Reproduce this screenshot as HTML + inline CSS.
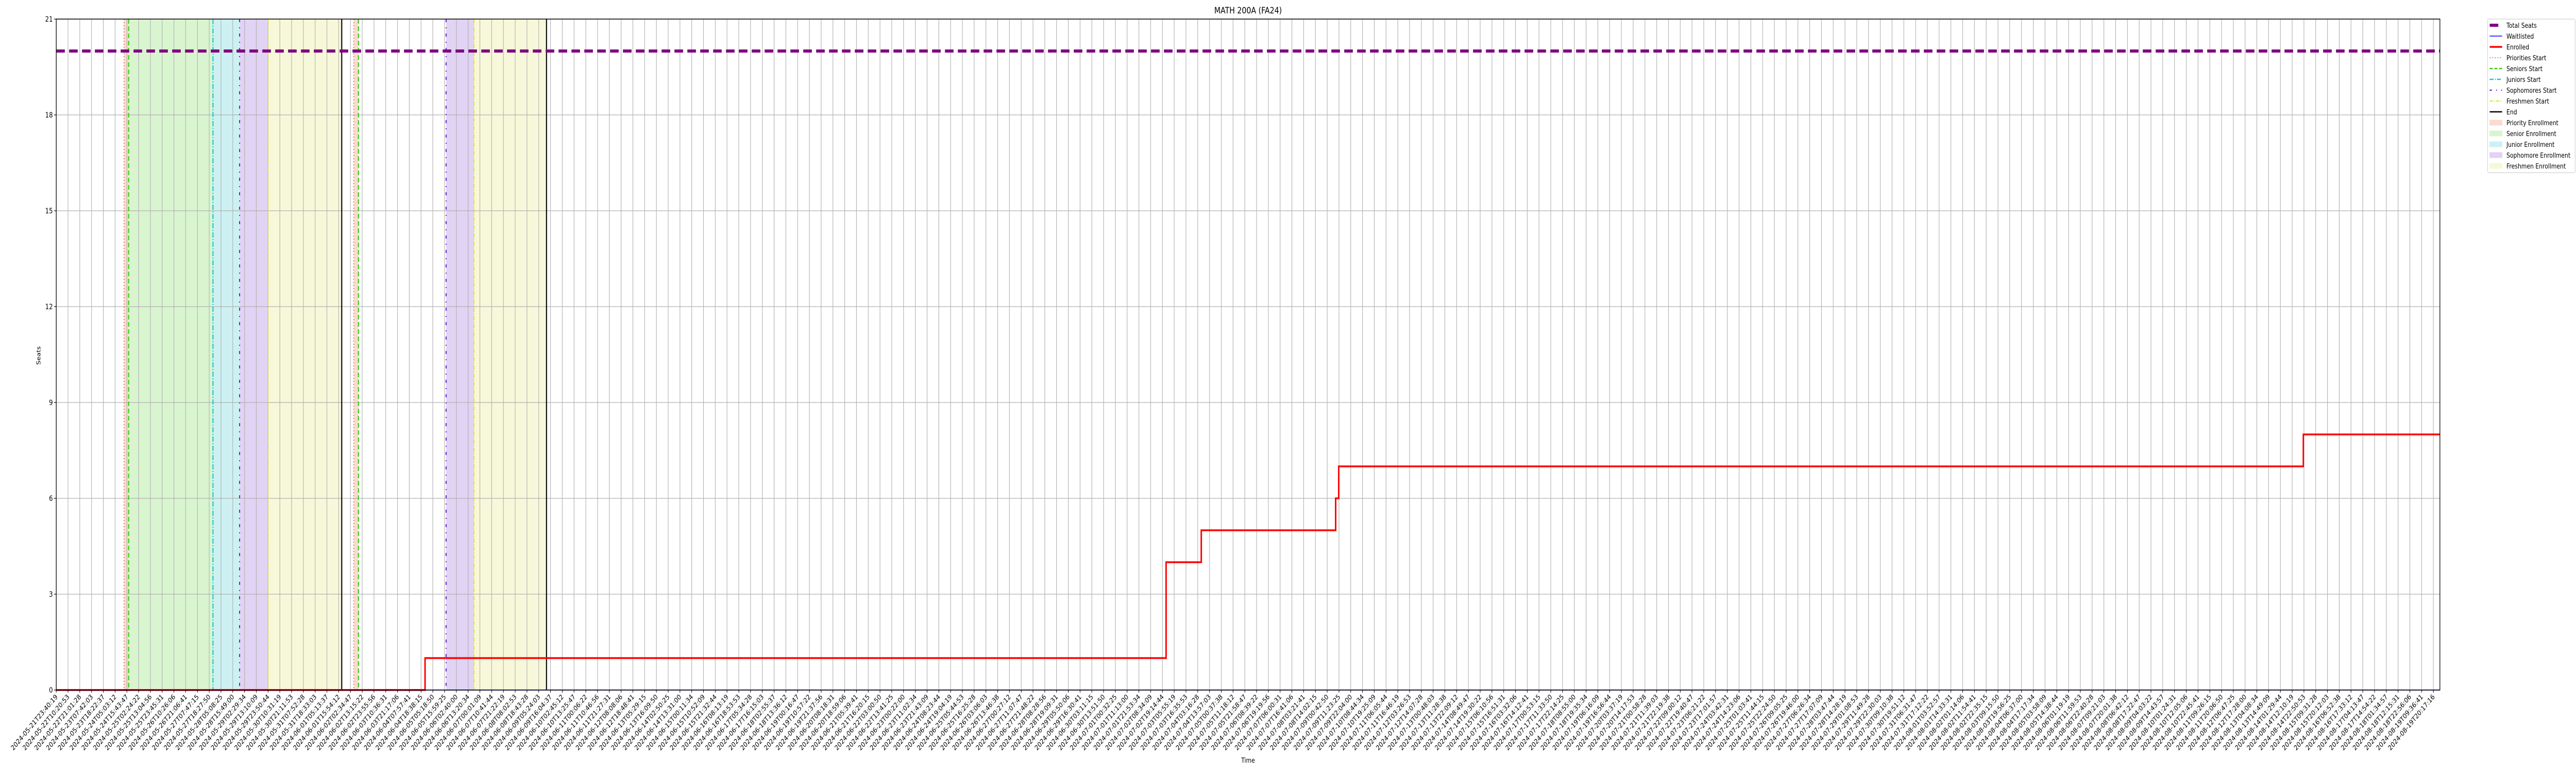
<!DOCTYPE html>
<html><head><meta charset="utf-8"><style>
html,body{margin:0;padding:0;background:#fff;width:100%;height:100%;overflow:hidden;}
svg{display:block;width:100vw;height:100vh;font-family:"DejaVu Sans","Liberation Sans",sans-serif;}
</style></head><body>
<svg id="chart" viewBox="0 0 6000 1500" preserveAspectRatio="none" xmlns="http://www.w3.org/2000/svg">
<text x="2907" y="26" font-size="17" text-anchor="middle">MATH 200A (FA24)</text>
<g id="plot"></g>
<text x="2907" y="1480" font-size="13" text-anchor="middle">Time</text>
<text x="0" y="0" font-size="13" text-anchor="middle" transform="translate(94,690) rotate(-90)">Seats</text>
<g id="legend"></g>
</svg>
<script>
const totalSeats = 20;
const enrolledIdx = [0, 31.34, 94.31, 97.30, 108.72, 108.98, 190.95, 202.55];
const enrolledVal = [0, 1, 4, 5, 6, 7, 8, 8];
const waitlistIdx = [0, 202.55];
const waitlistVal = [0, 0];
const periodStarts = [
  {priority:5.76, seniors:6.15, juniors:13.32, soph:15.58, fresh:17.99, end:24.26},
  {priority:25.28, seniors:25.68, juniors:null, soph:33.13, fresh:35.50, end:41.66}
];
const yTicks = [0,3,6,9,12,15,18,21];
const tickCount = 203;
const startLabelTime = Date.UTC(2024,4,21,23,40,19);
const endLabelTime = Date.UTC(2024,7,19,20,17,16);

const NS="http://www.w3.org/2000/svg";
const L=131,R=5683,T=37,B=1339,step=27.41;
const X=i=>L+i*step;
const Y=v=>B-(v/21)*(B-T);
const plot=document.getElementById('plot');
function mk(tag,attrs,parent){const e=document.createElementNS(NS,tag);for(const k in attrs)e.setAttribute(k,attrs[k]);(parent||plot).appendChild(e);return e;}

const spanColors={priority:'#f8dccf',seniors:'#d9f5d0',juniors:'#cdf1f2',soph:'#e1d3f4',fresh:'#f7f8d9'};
periodStarts.forEach((p,pi)=>{
  const order=['priority','seniors','juniors','soph','fresh','end'];
  const pts=order.filter(k=>p[k]!==null);
  for(let j=0;j<pts.length-1;j++){
    const k=pts[j];
    if(pi===1 && k==='seniors') continue;
    const r=mk('rect',{x:X(p[k]),y:T,width:X(p[pts[j+1]])-X(p[k]),height:B-T,fill:spanColors[k]});
    
    
  }
});
for(let i=0;i<tickCount;i++){
  const g=mk('line',{x1:X(i),x2:X(i),y1:T,y2:B,stroke:'#b0b0b0','stroke-width':1.3});
  
  
}
yTicks.forEach(v=>{
  const g=mk('line',{x1:L,x2:R,y1:Y(v),y2:Y(v),stroke:'#b0b0b0','stroke-width':1.3});
  
  
});
const lineStyles={
  priority:{stroke:'#e8743b',dash:'2,4',w:2},
  seniors:{stroke:'#33cc11',dash:'9,5',w:2.5},
  juniors:{stroke:'#11c8d8',dash:'10,3,2,3',w:2.5},
  soph:{stroke:'#6a2bd9',dash:'6,10,2,10',w:2.5},
  fresh:{stroke:'#dddd33',dash:'8,3,2,3',w:2},
  end:{stroke:'#000',dash:'',w:2.5}
};
periodStarts.forEach(p=>{
  for(const k in lineStyles){ if(p[k]===null) continue;
    const s=lineStyles[k];
    const ln=mk('line',{x1:X(p[k]),x2:X(p[k]),y1:T,y2:B,stroke:s.stroke,'stroke-width':s.w,'stroke-dasharray':s.dash});
    
    
  }
});
const ts=mk('line',{x1:L,x2:R,y1:Y(totalSeats),y2:Y(totalSeats),stroke:'#800080','stroke-width':6,'stroke-dasharray':'20,10'});


function stepPath(xs,vs){let d='M'+X(xs[0])+','+Y(vs[0]);for(let i=1;i<xs.length;i++){d+=' H'+X(xs[i])+' V'+Y(vs[i]);}return d;}
const en=mk('path',{d:stepPath(enrolledIdx,enrolledVal),fill:'none',stroke:'#ff0000','stroke-width':3.5});


const wl=mk('path',{d:stepPath(waitlistIdx,waitlistVal),fill:'none',stroke:'#0000ff','stroke-width':1.5});


const fr=mk('rect',{x:L,y:T,width:R-L,height:B-T,fill:'none',stroke:'#000','stroke-width':1.5});


yTicks.forEach(v=>{
  const t=mk('line',{x1:L-5,x2:L,y1:Y(v),y2:Y(v),stroke:'#000','stroke-width':1.2});
  
  
  const tx=mk('text',{x:L-8,y:Y(v)+5,'font-size':14,'text-anchor':'end'});
  tx.textContent=v;
  
  
});
const pad=n=>String(n).padStart(2,'0');
for(let i=0;i<tickCount;i++){
  const tm=new Date(startLabelTime+(endLabelTime-startLabelTime)*i/(tickCount-1));
  const lab=tm.getUTCFullYear()+'-'+pad(tm.getUTCMonth()+1)+'-'+pad(tm.getUTCDate())+'T'+pad(tm.getUTCHours())+':'+pad(tm.getUTCMinutes())+':'+pad(tm.getUTCSeconds());
  const t=mk('line',{x1:X(i),x2:X(i),y1:B,y2:B+5,stroke:'#000','stroke-width':1.2});
  
  
  const tx=mk('text',{x:0,y:0,'font-size':13.5,'text-anchor':'end',transform:'translate('+(X(i)+4)+','+(B+14)+') rotate(-45)'});
  tx.textContent=lab;
  
  
}
const lg=document.getElementById('legend');
const lb=mk('rect',{x:5794,y:37,width:204,height:298,rx:3,fill:'#fff',stroke:'#d0d0d0','stroke-width':1.2},lg);


const items=[
 ['Total Seats','line','#800080','',6,'20'],
 ['Waitlisted','line','#0000ff','',1.5,''],
 ['Enrolled','line','#ff0000','',3.5,''],
 ['Priorities Start','line','#e8743b','2,4',2,''],
 ['Seniors Start','line','#33cc11','7,4',2.5,''],
 ['Juniors Start','line','#11c8d8','9,3,2,3',2.5,''],
 ['Sophomores Start','line','#6a2bd9','5,10,2,10',2.5,''],
 ['Freshmen Start','line','#dddd33','7,3,2,3',2,''],
 ['End','line','#000','',2.5,''],
 ['Priority Enrollment','rect','#f8dccf'],
 ['Senior Enrollment','rect','#d9f5d0'],
 ['Junior Enrollment','rect','#cdf1f2'],
 ['Sophomore Enrollment','rect','#e1d3f4'],
 ['Freshmen Enrollment','rect','#f7f8d9']
];
items.forEach((it,i)=>{
  const y=49+i*21;
  const g=mk('g',{},lg);
  
  
  if(it[1]==='line'){
    const x2=it[5]?5819:5828;
    mk('line',{x1:5799,x2:x2,y1:y,y2:y,stroke:it[2],'stroke-width':it[4],'stroke-dasharray':it[3]},g);
  } else {
    mk('rect',{x:5799,y:y-5,width:29,height:10,fill:it[2],stroke:it[2]},g);
  }
  const tx=mk('text',{x:5838,y:y+5,'font-size':13},g);
  tx.textContent=it[0];
});
</script>
</body></html>
